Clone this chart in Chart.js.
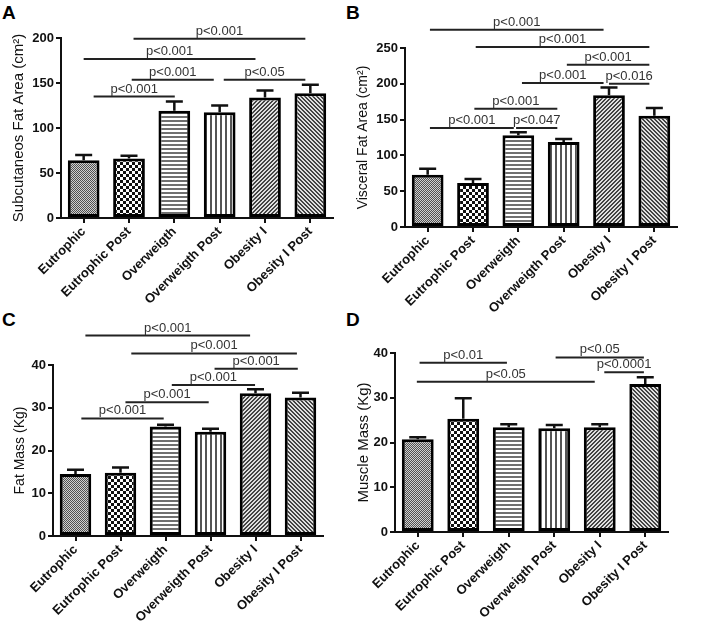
<!DOCTYPE html>
<html>
<head>
<meta charset="utf-8">
<script src="https://cdn.jsdelivr.net/npm/chart.js@4.4.0/dist/chart.umd.min.js"></script>
<style>
  body { margin: 0; background: #fff; width: 710px; height: 635px; position: relative; overflow: hidden; }
  canvas { position: absolute; }
  .letter { position: absolute; font: bold 19px "Liberation Sans", Arial, sans-serif; line-height: 19px; color: #000; }
</style>
</head>
<body>
<div class="letter" style="left:2px;top:3px">A</div>
<div class="letter" style="left:346px;top:3px">B</div>
<div class="letter" style="left:2px;top:310px">C</div>
<div class="letter" style="left:346px;top:310px">D</div>
<canvas id="chartA" width="355" height="320" style="left:0;top:0"></canvas>
<canvas id="chartB" width="355" height="320" style="left:355px;top:0"></canvas>
<canvas id="chartC" width="355" height="315" style="left:0;top:320px"></canvas>
<canvas id="chartD" width="355" height="315" style="left:355px;top:320px"></canvas>
<script>
// groups (same for all four panels)
var groups = ["Eutrophic", "Eutrophic Post", "Overweigth", "Overweigth Post", "Obesity I", "Obesity I Post"];

// A - subcutaneous fat area (cm2), mean and SEM
var subcutMean = [64.3, 66.2, 119.3, 117.5, 133.8, 138.7];
var subcutSem = [5.6, 2.9, 10.1, 7.4, 7.8, 9.3];
// B - visceral fat area (cm2)
var visceralMean = [73.1, 61.5, 128.0, 118.7, 183.9, 155.5];
var visceralSem = [8.4, 5.5, 4.2, 4.2, 11.1, 10.7];
// C - fat mass (kg)
var fatMean = [14.5, 14.8, 25.6, 24.4, 33.4, 32.4];
var fatSem = [1.0, 1.2, 0.4, 0.7, 0.9, 1.1];
// D - muscle mass (kg)
var muscleMean = [20.7, 25.3, 23.4, 23.2, 23.4, 33.1];
var muscleSem = [0.5, 4.6, 0.7, 0.7, 0.7, 1.5];

// significance brackets: [from group, to group, height (axis units), label]
var subcutBrackets = [
  [0.22, 2.01, 135, "p<0.001"],
  [1.06, 2.87, 153.5, "p<0.001"],
  [3.09, 4.89, 153.5, "p<0.05"],
  [0, 3.79, 176.6, "p<0.001"],
  [1.10, 4.89, 199.3, "p<0.001"]
];
var visceralBrackets = [
  [0.05, 3.88, 275.6, "p<0.001"],
  [1.06, 4.89, 251.4, "p<0.001"],
  [3.07, 4.89, 226.7, "p<0.001"],
  [2.08, 3.88, 201.1, "p<0.001"],
  [4.0, 4.89, 200.2, "p<0.016"],
  [1.03, 2.86, 165.3, "p<0.001"],
  [0.05, 1.90, 138.3, "p<0.001"],
  [1.95, 2.86, 138.3, "p<0.047"]
];
var fatBrackets = [
  [0.22, 3.88, 46.9, "p<0.001"],
  [1.24, 4.92, 42.7, "p<0.001"],
  [3.09, 4.94, 39.1, "p<0.001"],
  [2.14, 3.99, 35.3, "p<0.001"],
  [1.11, 2.96, 31.3, "p<0.001"],
  [0.13, 1.96, 27.5, "p<0.001"]
];
var muscleBrackets = [
  [0.04, 1.96, 37.8, "p<0.01"],
  [-0.02, 3.89, 33.6, "p<0.05"],
  [3.03, 4.97, 39.0, "p<0.05"],
  [4.1, 4.97, 35.7, "p<0.0001"]
];

var FONT = '"Liberation Sans", Arial, sans-serif';

// bar fill patterns
function tile(size, paint) {
  var c = document.createElement("canvas");
  c.width = size; c.height = size;
  var g = c.getContext("2d");
  g.fillStyle = "#fff";
  g.fillRect(0, 0, size, size);
  paint(g, size);
  return g.createPattern(c, "repeat");
}
function diag(dir) {
  return tile(4, function (g, n) {
    for (var x = 0; x < n; x++) {
      for (var y = 0; y < n; y++) {
        var k = dir > 0 ? (x + y) % n : (x - y + n) % n;
        g.fillStyle = (k < 2) ? "#444" : "#e0e0e0";
        g.fillRect(x, y, 1, 1);
      }
    }
  });
}
var patterns = [
  tile(2, function (g) { g.fillStyle = "#d0d0d0"; g.fillRect(0, 0, 2, 2); g.fillStyle = "#505050"; g.fillRect(0, 0, 1, 1); g.fillRect(1, 1, 1, 1); }),
  tile(6, function (g) { g.fillStyle = "#111"; g.fillRect(0, 0, 3, 3); g.fillRect(3, 3, 3, 3); }),
  tile(4, function (g) { g.fillStyle = "#707070"; g.fillRect(0, 0, 4, 2); }),
  tile(5, function (g) { g.fillStyle = "#555"; g.fillRect(0, 0, 2, 5); }),
  diag(1),
  diag(-1)
];

// error bars (upper only) and comparison brackets
var extras = {
  id: "extras",
  afterDatasetsDraw: function (chart) {
    var ctx = chart.ctx;
    var ys = chart.scales.y;
    var sem = chart.options.plugins.extras.sem;
    var vals = chart.data.datasets[0].data;
    ctx.save();
    ctx.strokeStyle = "#111";
    ctx.lineWidth = 2.5;
    chart.getDatasetMeta(0).data.forEach(function (bar, i) {
      var top = ys.getPixelForValue(vals[i] + sem[i]);
      var cap = 17;
      ctx.beginPath();
      ctx.moveTo(bar.x, bar.y);
      ctx.lineTo(bar.x, top);
      ctx.moveTo(bar.x - cap / 2, top);
      ctx.lineTo(bar.x + cap / 2, top);
      ctx.stroke();
    });
    ctx.restore();
  },
  afterDraw: function (chart) {
    var ctx = chart.ctx;
    var xs = chart.scales.x, ys = chart.scales.y;
    ctx.save();
    ctx.strokeStyle = "#222";
    ctx.lineWidth = 2;
    ctx.fillStyle = "#333";
    ctx.font = "13px " + FONT;
    ctx.textAlign = "center";
    ctx.textBaseline = "alphabetic";
    chart.options.plugins.extras.brackets.forEach(function (b) {
      var x1 = xs.getPixelForValue(b[0]);
      var x2 = xs.getPixelForValue(b[1]);
      var y = ys.getPixelForValue(b[2]);
      ctx.beginPath();
      ctx.moveTo(x1, y);
      ctx.lineTo(x2, y);
      ctx.stroke();
      ctx.fillText(b[3], (x1 + x2) / 2, y - 4);
    });
    ctx.restore();
  }
};

function panel(id, p) {
  var canvas = document.getElementById(id);
  var W = canvas.width, H = canvas.height;
  return new Chart(canvas.getContext("2d"), {
    type: "bar",
    data: {
      labels: groups,
      datasets: [{
        data: p.mean,
        backgroundColor: patterns,
        borderColor: "#000",
        borderWidth: 3,
        borderSkipped: false,
        barPercentage: 0.7,
        categoryPercentage: 1
      }]
    },
    options: {
      responsive: false,
      animation: false,
      events: [],
      layout: { padding: { top: p.top, right: W - p.right, left: 0, bottom: 0 } },
      plugins: {
        legend: { display: false },
        tooltip: { enabled: false },
        extras: { sem: p.sem, brackets: p.brackets }
      },
      scales: {
        x: {
          grid: { drawOnChartArea: false, offset: false, color: "#111", lineWidth: 2, tickLength: 5 },
          border: { color: "#111", width: 2 },
          ticks: {
            color: "#111",
            font: { family: FONT, size: 13, weight: "bold" },
            minRotation: 45,
            maxRotation: 45,
            autoSkip: false,
            padding: 1
          },
          afterFit: function (s) { s.height = H - p.bottom; }
        },
        y: {
          min: 0,
          max: p.max,
          ticks: { stepSize: p.step, color: "#111", font: { family: FONT, size: 13, weight: "bold" }, padding: 2 },
          grid: { drawOnChartArea: false, color: "#111", lineWidth: 2, tickLength: 5 },
          border: { color: "#111", width: 2 },
          title: {
            display: true,
            text: p.title,
            color: "#111",
            font: { family: FONT, size: p.titleSize, lineHeight: 1.2 },
            padding: { top: p.titlePad, bottom: 0 }
          },
          afterFit: function (s) { s.width = p.left; }
        }
      }
    },
    plugins: [extras]
  });
}

panel("chartA", {
  mean: subcutMean, sem: subcutSem, brackets: subcutBrackets,
  max: 200, step: 50, title: "Subcutaneos Fat Area (cm²)", titleSize: 15, titlePad: 10,
  left: 61, right: 333, top: 38, bottom: 218
});
panel("chartB", {
  mean: visceralMean, sem: visceralSem, brackets: visceralBrackets,
  max: 250, step: 50, title: "Visceral Fat Area (cm²)", titleSize: 14, titlePad: 0,
  left: 50, right: 322, top: 48, bottom: 227
});
panel("chartC", {
  mean: fatMean, sem: fatSem, brackets: fatBrackets,
  max: 40, step: 10, title: "Fat Mass (Kg)", titleSize: 14, titlePad: 12,
  left: 53, right: 323, top: 45, bottom: 216
});
panel("chartD", {
  mean: muscleMean, sem: muscleSem, brackets: muscleBrackets,
  max: 40, step: 10, title: "Muscle Mass (Kg)", titleSize: 15, titlePad: 0,
  left: 40, right: 313, top: 33, bottom: 212
});
</script>
</body>
</html>
